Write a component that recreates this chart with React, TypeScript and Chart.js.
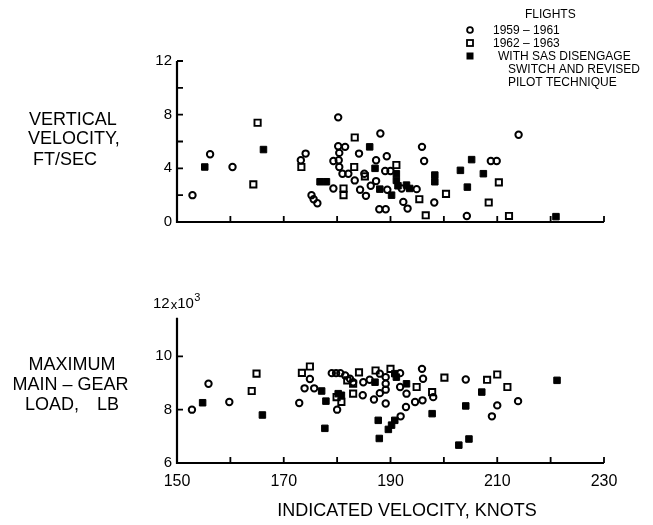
import React, { useEffect, useRef } from 'react';
import { Chart, registerables } from 'chart.js';
Chart.register(...registerables);

// ---------- data ----------
const xTickValues = [150, 160, 170, 180, 190, 200, 210, 220, 230];
const xTickLabels = ['150', '170', '190', '210', '230'];
const vvTickValues = [2, 4, 6, 8, 10, 12];
const vvTickLabels = ['0', '4', '8', '12'];
const loadTickValues = [8, 10];
const loadTickLabels = ['6', '8', '10'];

// Vertical velocity, ft/sec
const vvFlights5961: [number, number][] = [
  [152.9, 2.0], [156.2, 5.05], [160.4, 4.1], [173.2, 4.6], [174.1, 5.1], [175.2, 2.0], [175.6, 1.7],
  [176.3, 1.4], [179.3, 2.5], [180.2, 7.8], [180.2, 5.65], [181.5, 5.6], [180.4, 5.15], [179.3, 4.55],
  [180.3, 4.6], [180.4, 4.1], [181.0, 3.6], [182.1, 3.6], [183.3, 3.1], [184.1, 5.1], [184.3, 2.4],
  [185.4, 1.95], [185.1, 3.6], [186.3, 2.7], [187.3, 4.6], [187.3, 3.05], [188.1, 6.6], [189.3, 4.9],
  [189.0, 3.8], [190.0, 3.8], [189.4, 2.4], [187.9, 0.95], [189.1, 0.95], [192.1, 2.5], [192.4, 1.5],
  [193.2, 1.0], [194.9, 2.45], [195.9, 5.6], [196.3, 4.55], [198.2, 1.45], [204.3, 0.45], [208.8, 4.55],
  [209.9, 4.55], [214.0, 6.5],
];
const vvFlights6263: [number, number][] = [
  [165.1, 7.4], [164.3, 2.8], [173.3, 4.1], [181.2, 2.5], [181.2, 2.0], [183.3, 6.3], [183.2, 4.1],
  [185.2, 3.4], [191.1, 4.25], [195.4, 1.7], [196.6, 0.5], [200.4, 2.1], [208.4, 1.45], [210.3, 2.95],
  [212.2, 0.45],
];
const vvFlightsSAS: [number, number][] = [
  [155.2, 4.1], [166.2, 5.4], [176.8, 3.0], [178.0, 3.0], [186.1, 5.6], [187.1, 4.0], [188.0, 2.45],
  [190.2, 2.0], [191.1, 3.6], [191.1, 3.1], [191.4, 2.7], [193.0, 2.75], [193.6, 2.5], [198.3, 3.5],
  [198.3, 3.0], [203.1, 3.85], [204.4, 2.6], [205.2, 4.65], [207.4, 3.6], [221.0, 0.4],
];

// Maximum main-gear load, thousands of lb
const loadFlights5961: [number, number][] = [
  [152.8, 8.0], [155.9, 8.97], [159.8, 8.29], [172.9, 8.25], [174.9, 9.15], [173.9, 8.8], [175.7, 8.8],
  [179.0, 9.37], [179.8, 9.37], [180.6, 9.37], [180.0, 8.0], [181.5, 9.28], [182.4, 9.16], [183.0, 9.03],
  [184.9, 9.03], [184.8, 8.54], [186.1, 9.12], [186.9, 8.38], [188.0, 9.35], [188.0, 8.62], [189.1, 8.75],
  [189.1, 8.97], [189.1, 9.22], [189.1, 8.23], [191.8, 9.37], [191.8, 8.85], [193.0, 8.6], [192.9, 8.1],
  [191.9, 7.75], [194.6, 8.29], [196.0, 8.35], [195.9, 9.53], [196.1, 9.16], [198.0, 8.47], [204.1, 9.13],
  [210.0, 8.16], [209.0, 7.75], [213.9, 8.32],
];
const loadFlights6263: [number, number][] = [
  [164.0, 8.7], [164.9, 9.35], [173.4, 9.38], [174.9, 9.62], [181.9, 9.1], [179.9, 8.47], [180.8, 8.29],
  [183.0, 8.97], [183.0, 8.6], [184.1, 9.4], [187.2, 9.47], [190.0, 9.53], [194.9, 8.85], [197.8, 8.66],
  [200.1, 9.2], [208.1, 9.12], [210.0, 9.32], [211.9, 8.85],
];
const loadFlightsSAS: [number, number][] = [
  [154.8, 8.26], [166.0, 7.8], [177.1, 8.7], [177.9, 8.32], [177.7, 7.3], [180.2, 8.6], [180.8, 8.54],
  [187.1, 9.03], [187.7, 7.6], [187.9, 6.92], [190.8, 9.35], [191.1, 9.22], [193.0, 8.97], [190.8, 7.6],
  [190.2, 7.42], [189.6, 7.26], [197.8, 7.85], [204.1, 8.14], [202.8, 6.67], [204.7, 6.9], [207.1, 8.66],
  [221.2, 9.1],
];

// ---------- helpers ----------
const FONT = '"Liberation Sans", Arial, sans-serif';
const toPts = (a: [number, number][]) => a.map(([x, y]) => ({ x, y }));

const makeDatasets = (c: [number, number][], s: [number, number][], f: [number, number][]) => [
  {
    label: '1959 – 1961', data: toPts(c), pointStyle: 'circle', pointRadius: 3.2,
    pointBackgroundColor: 'rgba(0,0,0,0)', pointBorderColor: '#000', pointBorderWidth: 2,
    showLine: false, clip: false,
  },
  {
    label: '1962 – 1963', data: toPts(s), pointStyle: 'rect', pointRadius: 4.4,
    pointBackgroundColor: 'rgba(0,0,0,0)', pointBorderColor: '#000', pointBorderWidth: 1.9,
    showLine: false, clip: false,
  },
  {
    label: 'WITH SAS DISENGAGE SWITCH AND REVISED PILOT TECHNIQUE', data: toPts(f), pointStyle: 'rect',
    pointRadius: 4.6, pointBackgroundColor: '#000', pointBorderColor: '#000', pointBorderWidth: 1,
    showLine: false, clip: false,
  },
];

const axesPlugin = (id: string, yAxisTop: number, yTicks: number[]) => ({
  id,
  afterDraw(chart: any) {
    const { ctx, scales } = chart;
    const x = scales.x, y = scales.y;
    const x0 = x.getPixelForValue(xTickValues[0]);
    const x1 = x.getPixelForValue(xTickValues[xTickValues.length - 1]);
    const y0 = y.getPixelForValue(y.min);
    const yt = y.getPixelForValue(yAxisTop);
    ctx.save();
    ctx.strokeStyle = '#000';
    ctx.lineWidth = 2.2;
    ctx.beginPath();
    ctx.moveTo(x0, yt);
    ctx.lineTo(x0, y0);
    ctx.lineTo(x1, y0);
    ctx.stroke();
    ctx.lineWidth = 1.8;
    ctx.beginPath();
    xTickValues.slice(1).forEach((v) => {
      const p = x.getPixelForValue(v);
      ctx.moveTo(p, y0);
      ctx.lineTo(p, y0 - 6);
    });
    yTicks.forEach((v) => {
      const p = y.getPixelForValue(v);
      ctx.moveTo(x0, p);
      ctx.lineTo(x0 + 6, p);
    });
    ctx.stroke();
    ctx.restore();
  },
});

const topTextPlugin = {
  id: 'topText',
  afterDraw(chart: any) {
    const { ctx } = chart;
    ctx.save();
    ctx.fillStyle = '#000';
    ctx.textBaseline = 'alphabetic';
    ctx.textAlign = 'left';
    ctx.font = `18px ${FONT}`;
    ctx.fillText('VERTICAL', 29, 125);
    ctx.fillText('VELOCITY,', 28, 144);
    ctx.fillText('FT/SEC', 33, 165);
    // legend
    ctx.font = `12px ${FONT}`;
    ctx.fillText('FLIGHTS', 525, 18);
    ctx.fillText('1959 – 1961', 493, 34);
    ctx.fillText('1962 – 1963', 493, 47);
    ctx.fillText('WITH SAS DISENGAGE', 498, 60);
    ctx.fillText('SWITCH AND REVISED', 508, 73);
    ctx.fillText('PILOT TECHNIQUE', 508, 86);
    ctx.strokeStyle = '#000';
    ctx.lineWidth = 1.8;
    ctx.beginPath();
    ctx.arc(470, 30, 2.9, 0, Math.PI * 2);
    ctx.stroke();
    ctx.strokeRect(467, 40, 6, 6);
    ctx.fillRect(466.5, 52.5, 7, 7);
    ctx.restore();
  },
};

const bottomTextPlugin = {
  id: 'bottomText',
  afterDraw(chart: any) {
    const { ctx, scales } = chart;
    ctx.save();
    ctx.fillStyle = '#000';
    ctx.textBaseline = 'alphabetic';
    ctx.font = `18px ${FONT}`;
    ctx.textAlign = 'center';
    ctx.fillText('MAXIMUM', 72, 120);
    ctx.fillText('MAIN – GEAR', 70.5, 140);
    ctx.textAlign = 'left';
    ctx.fillText('LOAD,', 25, 160);
    ctx.fillText('LB', 97, 160);
    ctx.textAlign = 'center';
    ctx.fillText('INDICATED VELOCITY, KNOTS', 407, 266);
    // 12x10^3 label
    const py = scales.y.getPixelForValue(12);
    ctx.textAlign = 'left';
    ctx.textBaseline = 'middle';
    ctx.font = `15px ${FONT}`;
    let xp = 153;
    ctx.fillText('12', xp, py + 1);
    xp += ctx.measureText('12').width + 1;
    ctx.font = `13px ${FONT}`;
    ctx.fillText('x', xp, py + 2);
    xp += ctx.measureText('x').width;
    ctx.font = `15px ${FONT}`;
    ctx.fillText('10', xp, py + 1);
    xp += ctx.measureText('10').width;
    ctx.font = `11px ${FONT}`;
    ctx.fillText('3', xp + 0.5, py - 5);
    ctx.restore();
  },
};

const W = 653;
const TOP_H = 250;
const BOT_H = 275;

export default function App() {
  const topRef = useRef<HTMLCanvasElement>(null);
  const botRef = useRef<HTMLCanvasElement>(null);

  useEffect(() => {
    const common = (xLabelsShown: boolean, xHeight: number, padTop: number) => ({
      responsive: false,
      maintainAspectRatio: false,
      animation: false as const,
      devicePixelRatio: 1,
      layout: { padding: { top: padTop, right: W - 604, left: 0, bottom: 0 } },
      plugins: { legend: { display: false }, tooltip: { enabled: false } },
      events: [],
      scales: {
        x: {
          type: 'linear' as const,
          min: xTickValues[0],
          max: xTickValues[xTickValues.length - 1],
          afterBuildTicks: (s: any) => {
            s.ticks = xTickValues.map((v) => ({ value: v }));
          },
          afterFit: (s: any) => {
            s.height = xHeight;
          },
          border: { display: false },
          grid: { display: false, drawTicks: false },
          ticks: {
            display: xLabelsShown,
            autoSkip: false,
            maxRotation: 0,
            padding: 9,
            color: '#000',
            font: { family: FONT, size: 16 },
            callback: (v: any) => (xTickLabels.includes(String(v)) ? String(v) : ''),
          },
        },
      },
    });

    const top = new Chart(topRef.current!, {
      type: 'scatter',
      data: { datasets: makeDatasets(vvFlights5961, vvFlights6263, vvFlightsSAS) as any },
      options: {
        ...common(false, TOP_H - 222, 61),
        scales: {
          ...common(false, TOP_H - 222, 61).scales,
          y: {
            type: 'linear',
            min: 0,
            max: 12,
            afterBuildTicks: (s: any) => {
              s.ticks = [0, ...vvTickValues].map((v) => ({ value: v }));
            },
            afterFit: (s: any) => {
              s.width = 177;
            },
            border: { display: false },
            grid: { display: false, drawTicks: false },
            ticks: {
              autoSkip: false,
              padding: 5,
              color: '#000',
              font: { family: FONT, size: 15 },
              callback: (v: any) => (vvTickLabels.includes(String(v)) ? String(v) : ''),
            },
          },
        },
      } as any,
      plugins: [axesPlugin('axesTop', 12, vvTickValues), topTextPlugin],
    });

    const bot = new Chart(botRef.current!, {
      type: 'scatter',
      data: { datasets: makeDatasets(loadFlights5961, loadFlights6263, loadFlightsSAS) as any },
      options: {
        ...common(true, BOT_H - 213, 53),
        scales: {
          ...common(true, BOT_H - 213, 53).scales,
          y: {
            type: 'linear',
            min: 6,
            max: 12,
            afterBuildTicks: (s: any) => {
              s.ticks = [6, 8, 10, 12].map((v) => ({ value: v }));
            },
            afterFit: (s: any) => {
              s.width = 177;
            },
            border: { display: false },
            grid: { display: false, drawTicks: false },
            ticks: {
              autoSkip: false,
              padding: 5,
              color: '#000',
              font: { family: FONT, size: 15 },
              callback: (v: any) => (loadTickLabels.includes(String(v)) ? String(v) : ''),
            },
          },
        },
      } as any,
      plugins: [axesPlugin('axesBot', 11.45, loadTickValues), bottomTextPlugin],
    });

    return () => {
      top.destroy();
      bot.destroy();
    };
  }, []);

  return (
    <div style={{ position: 'absolute', left: 0, top: 0, width: W, height: TOP_H + BOT_H, background: '#fff' }}>
      <canvas ref={topRef} width={W} height={TOP_H} style={{ position: 'absolute', left: 0, top: 0, display: 'block' }} />
      <canvas ref={botRef} width={W} height={BOT_H} style={{ position: 'absolute', left: 0, top: TOP_H, display: 'block' }} />
    </div>
  );
}
